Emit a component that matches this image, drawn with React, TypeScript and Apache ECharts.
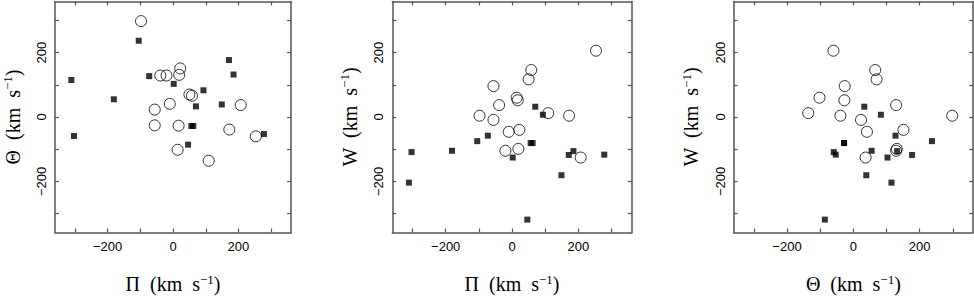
import React, { useEffect, useRef } from "react";
import * as echarts from "echarts";

// Stars with open circles: Pi, Theta, W (km/s)
const circlePi = [-98, -39, -20, 22, 19, 50, 58, -56, -10, 207, -56, 17, 172, 253, 14, 109];
const circleTheta = [298, 129, 129, 151, 131, 70, 66, 23, 41, 37, -26, -27, -39, -60, -102, -136];
const circleW = [4, 37, -105, -40, -99, 117, 146, -9, -46, -126, 96, 52, 4, 206, 60, 12];

// Stars with filled squares: Pi, Theta, W (km/s)
const squarePi = [-105, -311, -181, -303, -73, 2, 93, 70, 149, 171, 185, 56, 62, 46, 278];
const squareTheta = [237, 115, 55, -59, 127, 103, 83, 33, 39, 177, 132, -28, -28, -86, -53];
const squareW = [-75, -204, -105, -109, -58, -126, 7, 32, -181, -118, -106, -81, -81, -319, -117];

const tickValues = [-300, -200, -100, 0, 100, 200, 300];
const labelValues = [-200, 0, 200];

const panels = [
  { xName: "Π", yName: "Θ", xs: [circlePi, squarePi], ys: [circleTheta, squareTheta] },
  { xName: "Π", yName: "W", xs: [circlePi, squarePi], ys: [circleW, squareW] },
  { xName: "Θ", yName: "W", xs: [circleTheta, squareTheta], ys: [circleW, squareW] },
];

const gridLefts = [51.6, 392.3, 733.6];
const RANGE = 361;
const YRANGE = 359;
const lineColor = "#555";

const fmt = (v: number) => (v < 0 ? "\u2212" + Math.abs(v) : String(v));

const nameRich = {
  n: { fontFamily: "Liberation Serif", fontSize: 20, color: "#000" },
  s: { fontFamily: "Liberation Serif", fontSize: 13, color: "#000", padding: [0, 0, 10, 0] },
};

const axisName = (sym: string) => `{n|${sym}  (km  s}{s|\u22121}{n|)}`;

export default function App() {
  const ref = useRef<HTMLDivElement>(null);
  useEffect(() => {
    if (!ref.current) return;
    const chart = echarts.init(ref.current, undefined, { renderer: "svg" });
    const grid: any[] = [];
    const xAxis: any[] = [];
    const yAxis: any[] = [];
    const series: any[] = [];
    panels.forEach((p, i) => {
      grid.push({ left: gridLefts[i], top: 1.5, width: 239.5, height: 238, containLabel: false });
      const common = {
        gridIndex: i,
        type: "value",
        splitLine: { show: false },
        axisLine: { show: true, onZero: false, lineStyle: { color: lineColor, width: 1.5 } },
        axisTick: { show: true, inside: true, length: 4, customValues: tickValues, lineStyle: { color: lineColor, width: 1.2 } },
      };
      xAxis.push({
        ...common,
        position: "bottom",
        min: -RANGE,
        max: RANGE,
        axisLabel: {
          show: true,
          customValues: labelValues,
          formatter: fmt,
          margin: 7,
          fontFamily: "Liberation Sans",
          fontSize: 13,
          color: "#000",
        },
        name: axisName(p.xName),
        nameLocation: "middle",
        nameGap: 40,
        nameTextStyle: { rich: nameRich },
      });
      xAxis.push({
        ...common,
        position: "top",
        min: -RANGE,
        max: RANGE,
        axisLabel: { show: false },
      });
      yAxis.push({
        ...common,
        position: "left",
        min: -YRANGE,
        max: YRANGE,
        axisLabel: {
          show: true,
          customValues: labelValues,
          formatter: fmt,
          rotate: 90,
          margin: 7,
          fontFamily: "Liberation Sans",
          fontSize: 13,
          color: "#000",
        },
        name: axisName(p.yName),
        nameLocation: "middle",
        nameRotate: 90,
        nameGap: 31,
        nameTextStyle: { rich: nameRich },
      });
      yAxis.push({
        ...common,
        position: "right",
        min: -YRANGE,
        max: YRANGE,
        axisLabel: { show: false },
      });
      series.push({
        type: "scatter",
        xAxisIndex: i * 2,
        yAxisIndex: i * 2,
        symbol: "circle",
        symbolSize: 11,
        itemStyle: { color: "rgba(0,0,0,0)", borderColor: "#000", borderWidth: 1 },
        data: p.xs[0].map((x, k) => [x, p.ys[0][k]]),
        z: 2,
      });
      series.push({
        type: "scatter",
        xAxisIndex: i * 2,
        yAxisIndex: i * 2,
        symbol: "rect",
        symbolSize: 6,
        itemStyle: { color: "#000" },
        data: p.xs[1].map((x, k) => [x, p.ys[1][k]]),
        z: 3,
      });
    });
    chart.setOption({ animation: false, backgroundColor: "#fff", grid, xAxis, yAxis, series });
    return () => chart.dispose();
  }, []);
  return <div ref={ref} style={{ position: "fixed", left: 0, top: 0, width: 974, height: 299 }} />;
}
